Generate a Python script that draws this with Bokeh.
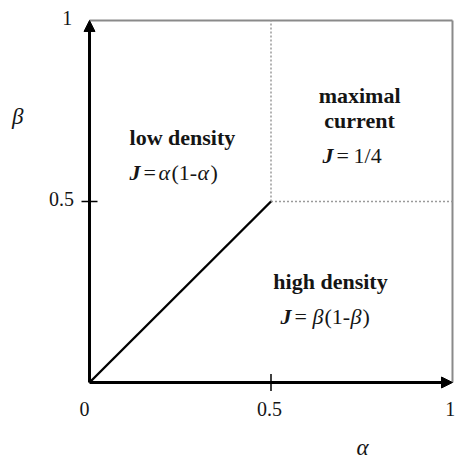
from bokeh.plotting import figure
from bokeh.models import Arrow, NormalHead, ColumnDataSource
from bokeh.core.properties import value
from bokeh.embed import file_html
from bokeh.resources import INLINE
import math

# ---------------- data ----------------
axis_min = 0.0
axis_max = 1.0
critical = 0.5  # alpha = beta = 1/2

# phase boundary low density / high density (alpha = beta)
boundary_alpha = [0.0, 0.5]
boundary_beta = [0.0, 0.5]
# maximal current boundaries
mc_vert_alpha = [0.5, 0.5]
mc_vert_beta = [0.5, 1.0]
mc_horiz_alpha = [0.5, 1.0]
mc_horiz_beta = [0.5, 0.5]

# tick labels
x_tick_values = [0.0, 0.5, 1.0]
x_tick_labels = ["0", "0.5", "1"]
y_tick_values = [0.5, 1.0]
y_tick_labels = ["0.5", "1"]

# phase names (position in alpha, beta)
phase_names = ["low density", "maximal", "current", "high density"]
phase_name_alpha = [0.256, 0.744, 0.744, 0.664]
phase_name_beta = [0.677, 0.793, 0.724, 0.279]

# current formulas, split into pieces by style
formula_anchor_alpha = [0.110, 0.642, 0.526]
formula_anchor_beta = [0.580, 0.627, 0.182]
formula_pieces = [
    # (text, style, offset px)
    [("J", "bold italic", 0), ("=", "normal", 14), ("α", "italic", 29),
     ("(1-", "normal", 42), ("α", "italic", 68), (")", "normal", 81)],
    [("J", "bold italic", 0), ("=", "normal", 14), ("1/4", "normal", 31)],
    [("J", "bold italic", 0), ("=", "normal", 14), ("β", "italic", 32),
     ("(1-", "normal", 44), ("β", "italic", 70), (")", "normal", 82)],
]

x_axis_name = "α"
y_axis_name = "β"

# ---------------- figure ----------------
p = figure(width=457, height=459,
           x_range=(-0.2452, 1.0138), y_range=(-0.2127, 1.0552),
           output_backend="svg", toolbar_location=None,
           x_axis_location=None, y_axis_location=None,
           min_border=0)
p.grid.visible = False
p.outline_line_color = None
p.background_fill_color = "white"
p.border_fill_color = "white"

SERIF = value("Liberation Serif")
INK = "#151515"

# box borders (gray)
p.line([axis_min, axis_max], [axis_max, axis_max], line_color="#8a8a8a", line_width=2)
p.line([axis_max, axis_max], [axis_min, axis_max], line_color="#8a8a8a", line_width=2)

# maximal current dotted borders
p.line(mc_vert_alpha, mc_vert_beta, line_color="#9a9a9a", line_width=1.5, line_dash="2 2")
p.line(mc_horiz_alpha, mc_horiz_beta, line_color="#9a9a9a", line_width=1.5, line_dash="2 2")

# LD/HD boundary
p.line(boundary_alpha, boundary_beta, line_color="black", line_width=2.4)

# axes with arrows
p.add_layout(Arrow(end=NormalHead(size=11, fill_color="black", line_color="black", line_width=1),
                   x_start=axis_min, y_start=axis_min, x_end=axis_min, y_end=axis_max,
                   line_color="black", line_width=3))
p.add_layout(Arrow(end=NormalHead(size=11, fill_color="black", line_color="black", line_width=1),
                   x_start=axis_min, y_start=axis_min, x_end=axis_max, y_end=axis_min,
                   line_color="black", line_width=3))

# tick marks at 0.5
p.scatter([critical], [axis_min], marker="dash", size=17, angle=math.pi / 2,
          line_color="black", line_width=1.5)
p.scatter([axis_min], [critical], marker="dash", size=16,
          line_color="black", line_width=1.5)

# tick labels
p.text([v - 0.014 if v == 0 else (v - 0.006 if v == 1 else v - 0.004) for v in x_tick_values],
       [-0.072] * len(x_tick_values), text=x_tick_labels,
       text_font=SERIF, text_font_size="20px", text_color=INK,
       text_align="center", text_baseline="middle")
p.text([-0.077, -0.061], [v + 0.008 for v in y_tick_values], text=y_tick_labels,
       text_font=SERIF, text_font_size="20px", text_color=INK,
       text_align="center", text_baseline="middle")

# axis names
p.text([0.752], [-0.180], text=[x_axis_name], text_font=SERIF, text_font_size="23px",
       text_font_style="italic", text_color=INK,
       text_align="center", text_baseline="middle")
p.text([-0.198], [0.735], text=[y_axis_name], text_font=SERIF, text_font_size="23px",
       text_font_style="italic", text_color=INK,
       text_align="center", text_baseline="middle")

# phase names
p.text(phase_name_alpha, phase_name_beta, text=phase_names, text_font=SERIF,
       text_font_size="22px", text_font_style="bold", text_color=INK,
       text_align="center", text_baseline="middle")

# formulas
for style in ["bold italic", "italic", "normal"]:
    xs, ys, ts, dxs = [], [], [], []
    for i, pieces in enumerate(formula_pieces):
        for (t, st, dx) in pieces:
            if st == style:
                xs.append(formula_anchor_alpha[i])
                ys.append(formula_anchor_beta[i])
                ts.append(t)
                dxs.append(dx)
    src = ColumnDataSource(dict(x=xs, y=ys, text=ts, dx=dxs))
    p.text("x", "y", text="text", x_offset="dx", source=src, text_font=SERIF,
           text_font_size="22px", text_font_style=style, text_color=INK,
           text_align="left", text_baseline="middle")

open("out.html", "w").write(file_html(p, INLINE))
